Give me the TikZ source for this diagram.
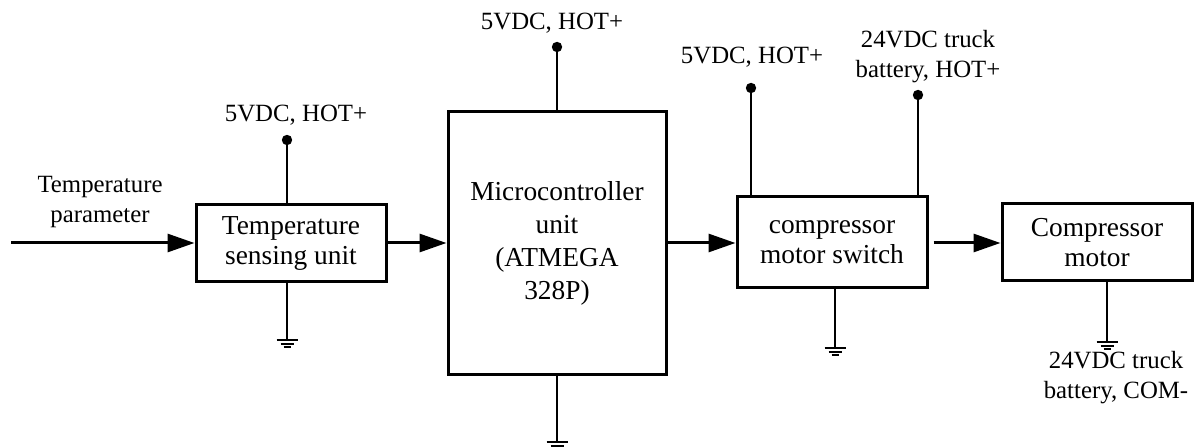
\documentclass[tikz,border=0pt]{standalone}
\usepackage{fontspec}
\setmainfont{Liberation Serif}
\usetikzlibrary{arrows.meta}

\tikzset{
  bloque/.style={draw,line width=1.5pt,align=center,inner sep=0pt,
    font=\fontsize{13.7}{15}\selectfont},
  rotulo/.style={align=center,inner sep=0pt,font=\fontsize{12.4}{15}\selectfont},
  flujo/.style={line width=1.5pt,-{Triangle[length=13.5pt,width=9pt]}},
  hilo/.style={line width=0.75pt},
  tierra/.pic={\draw[line width=0.75pt] (-10.5,0)--(10.5,0) (-6.5,4)--(6.5,4) (-3.5,7)--(3.5,7);}
}

\begin{document}
\begin{tikzpicture}[x=0.5pt,y=-0.5pt]
  \useasboundingbox (0,0) rectangle (1195,448);
  % bloques
  \node[bloque,minimum width=95pt,minimum height=38.5pt] (sens) at (291,243.5) {Temperature\\sensing unit};
  \node[bloque,minimum width=109pt,minimum height=131.5pt,font=\fontsize{13.7}{16.5}\selectfont] (mcu) at (557,243.5) {Microcontroller\\unit\\(ATMEGA\\328P)};
  \node[bloque,minimum width=95pt,minimum height=45.5pt] (sw) at (832,242.5) {compressor\\motor switch};
  \node[bloque,minimum width=95pt,minimum height=38.5pt] (mot) at (1097,242.5) {Compressor\\motor};
  % entrada
  \coordinate (ent) at (11,243);
  \node[rotulo] (tpar) at (100,202) {Temperature\\parameter};
  % flechas de senal
  \draw[flujo] (ent) -- (ent -| sens.west);
  \draw[flujo] (sens.east |- ent) -- (ent -| mcu.west);
  \draw[flujo] (mcu.east |- ent) -- (ent -| sw.west);
  \draw[flujo,shorten <=2.5pt] (sw.east |- ent) -- (ent -| mot.west);
  % alimentacion
  \coordinate (vsens) at (287,140);
  \coordinate (vmcu) at (557,47);
  \coordinate (vsw) at (751,88);
  \coordinate (vbat) at (918,95);
  \foreach \b/\v in {sens/vsens,mcu/vmcu,sw/vsw,sw/vbat}{
    \draw[hilo] (\b.north -| \v) -- (\v);
    \fill (\v) circle (2.6pt);
  }
  \node[rotulo] (lsens) at (296,115) {5VDC, HOT+};
  \node[rotulo] (lmcu) at (552,23) {5VDC, HOT+};
  \node[rotulo] (lsw) at (752,57) {5VDC, HOT+};
  \node[rotulo] (lbat) at (928,57) {24VDC truck\\battery, HOT+};
  % masas
  \coordinate (gsens) at (287,340);
  \coordinate (gmcu) at (557,442);
  \coordinate (gsw) at (835,348);
  \coordinate (gmot) at (1107,342);
  \foreach \b/\g in {sens/gsens,mcu/gmcu,sw/gsw,mot/gmot}{
    \draw[hilo] (\b.south -| \g) -- (\g);
    \pic at (\g) {tierra};
  }
  \node[rotulo] (lcom) at (1116,378) {24VDC truck\\battery, COM-};
\end{tikzpicture}
\end{document}
